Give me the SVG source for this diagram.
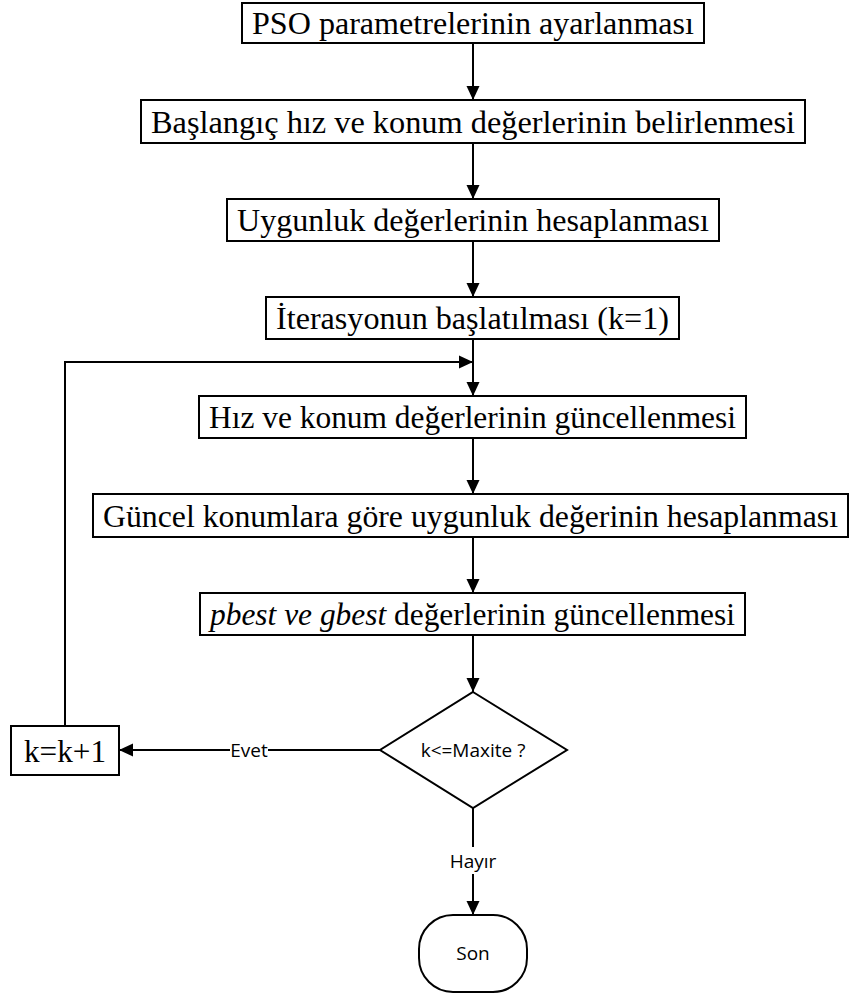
<svg xmlns="http://www.w3.org/2000/svg" width="852" height="996" viewBox="0 0 852 996">
<defs>
<marker id="ah" markerUnits="userSpaceOnUse" markerWidth="14" markerHeight="14" viewBox="0 0 14 14" refX="14" refY="7" orient="auto">
<path d="M0,0.5 L14,7 L0,13.5 z" fill="#000"/>
</marker>
</defs>
<style>
.box{fill:#fff;stroke:#000;stroke-width:2}
.t{font-size:32px;fill:#000;text-anchor:middle}
.s{font-size:19px;fill:#000;text-anchor:middle}
.c{fill:none;stroke:#000;stroke-width:2}
</style>
<rect width="852" height="996" fill="#fff"/>
<g id="connectors">
<line class="c" x1="473" y1="43" x2="473" y2="100" marker-end="url(#ah)"/>
<line class="c" x1="473" y1="143" x2="473" y2="199" marker-end="url(#ah)"/>
<line class="c" x1="473" y1="241" x2="473" y2="297" marker-end="url(#ah)"/>
<line class="c" x1="473" y1="339" x2="473" y2="396" marker-end="url(#ah)"/>
<line class="c" x1="473" y1="438" x2="473" y2="494" marker-end="url(#ah)"/>
<line class="c" x1="473" y1="537" x2="473" y2="593" marker-end="url(#ah)"/>
<line class="c" x1="473" y1="635" x2="473" y2="692" marker-end="url(#ah)"/>
<polyline class="c" points="65,726 65,362 473,362" marker-end="url(#ah)"/>
<line class="c" x1="380" y1="750" x2="268" y2="750"/>
<line class="c" x1="230" y1="750" x2="119" y2="750" marker-end="url(#ah)"/>
<text class="s" x="249" y="757" font-family="'Open Sans','Noto Sans',sans-serif">Evet</text>
<line class="c" x1="473" y1="808" x2="473" y2="847"/>
<line class="c" x1="473" y1="874" x2="473" y2="915" marker-end="url(#ah)"/>
<text class="s" x="473" y="868" font-family="'Open Sans','Noto Sans',sans-serif">Hayır</text>
</g>
<g id="n1"><rect class="box" x="242" y="3" width="462" height="40"/><text class="t" font-family="'Liberation Serif','Times New Roman',Tinos,serif" x="473" y="34" textLength="442" lengthAdjust="spacingAndGlyphs">PSO parametrelerinin ayarlanması</text></g>
<g id="n2"><rect class="box" x="141" y="100" width="664" height="43"/><text class="t" font-family="'Liberation Serif','Times New Roman',Tinos,serif" x="473" y="132.5" textLength="644" lengthAdjust="spacingAndGlyphs">Başlangıç hız ve konum değerlerinin belirlenmesi</text></g>
<g id="n3"><rect class="box" x="227" y="199" width="492" height="42"/><text class="t" font-family="'Liberation Serif','Times New Roman',Tinos,serif" x="473" y="231" textLength="472" lengthAdjust="spacingAndGlyphs">Uygunluk değerlerinin hesaplanması</text></g>
<g id="n4"><rect class="box" x="266" y="297" width="413" height="42"/><text class="t" font-family="'Liberation Serif','Times New Roman',Tinos,serif" x="472.5" y="329" textLength="393" lengthAdjust="spacingAndGlyphs">İterasyonun başlatılması (k=1)</text></g>
<g id="n5"><rect class="box" x="199" y="396" width="547" height="42"/><text class="t" font-family="'Liberation Serif','Times New Roman',Tinos,serif" x="472.5" y="428" textLength="527" lengthAdjust="spacingAndGlyphs">Hız ve konum değerlerinin güncellenmesi</text></g>
<g id="n6"><rect class="box" x="93" y="494" width="755" height="43"/><text class="t" font-family="'Liberation Serif','Times New Roman',Tinos,serif" x="470.5" y="526.5" textLength="735" lengthAdjust="spacingAndGlyphs">Güncel konumlara göre uygunluk değerinin hesaplanması</text></g>
<g id="n7"><rect class="box" x="200" y="593" width="545" height="42"/><text class="t" font-family="'Liberation Serif','Times New Roman',Tinos,serif" x="472.5" y="625" textLength="525" lengthAdjust="spacingAndGlyphs"><tspan font-style="italic">pbest ve gbest</tspan> değerlerinin güncellenmesi</text></g>
<g id="n8"><polygon class="box" points="473,692 567,750 473,808 380,750"/><text class="s" font-family="'Open Sans','Noto Sans',sans-serif" x="473" y="757">k&lt;=Maxite ?</text></g>
<g id="n9"><rect class="box" x="11" y="726" width="108" height="49"/><text class="t" font-family="'Liberation Serif','Times New Roman',Tinos,serif" x="65" y="762" textLength="82" lengthAdjust="spacingAndGlyphs">k=k+1</text></g>
<g id="n10"><rect class="box" x="419" y="915" width="108" height="77" rx="34" ry="34"/><text class="s" font-family="'Open Sans','Noto Sans',sans-serif" x="473" y="960">Son</text></g>
</svg>
